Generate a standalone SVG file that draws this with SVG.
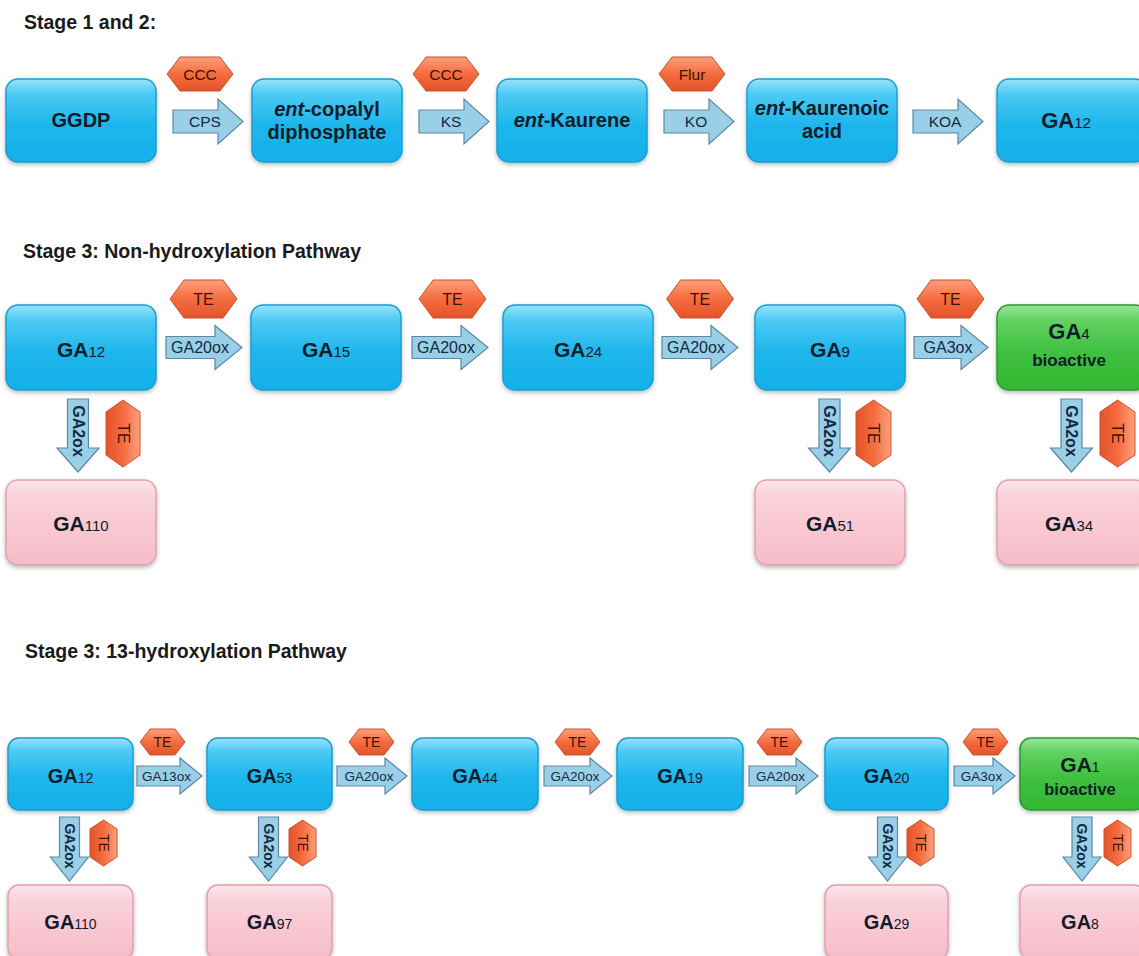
<svg xmlns="http://www.w3.org/2000/svg" width="1139" height="956" viewBox="0 0 1139 956">
<defs>
  <linearGradient id="gBlue" x1="0" y1="0" x2="0" y2="1">
    <stop offset="0" stop-color="#9ae3fb"/>
    <stop offset="0.18" stop-color="#4ccaf4"/>
    <stop offset="0.55" stop-color="#1fb6ec"/>
    <stop offset="1" stop-color="#12b0ea"/>
  </linearGradient>
  <linearGradient id="gGreen" x1="0" y1="0" x2="0" y2="1">
    <stop offset="0" stop-color="#9be69b"/>
    <stop offset="0.18" stop-color="#62d262"/>
    <stop offset="0.55" stop-color="#40c040"/>
    <stop offset="1" stop-color="#33b733"/>
  </linearGradient>
  <linearGradient id="gPink" x1="0" y1="0" x2="0" y2="1">
    <stop offset="0" stop-color="#fde6eb"/>
    <stop offset="0.2" stop-color="#fad2da"/>
    <stop offset="1" stop-color="#f6bcc8"/>
  </linearGradient>
  <linearGradient id="gHex" x1="0" y1="0" x2="0" y2="1">
    <stop offset="0" stop-color="#ff9f7c"/>
    <stop offset="0.5" stop-color="#f46c3e"/>
    <stop offset="1" stop-color="#e4532a"/>
  </linearGradient>
  <linearGradient id="gHexV" x1="0" y1="0" x2="1" y2="0">
    <stop offset="0" stop-color="#e4532a"/>
    <stop offset="0.5" stop-color="#f46c3e"/>
    <stop offset="1" stop-color="#ff9f7c"/>
  </linearGradient>
  <filter id="sh" x="-10%" y="-10%" width="120%" height="130%">
    <feDropShadow dx="0" dy="2" stdDeviation="2" flood-color="#000" flood-opacity="0.28"/>
  </filter>
</defs>
<style>
  .title{font-family:"Liberation Sans",Arial,sans-serif;font-weight:bold;font-size:19.5px;fill:#1a1a1a}
  .blue{fill:url(#gBlue);stroke:#1b9dcf;stroke-width:1.5;filter:url(#sh)}
  .green{fill:url(#gGreen);stroke:#2c9a2c;stroke-width:1.5;filter:url(#sh)}
  .pink{fill:url(#gPink);stroke:#e3a0af;stroke-width:1.5;filter:url(#sh)}
  .arr{fill:#9acfe8;stroke:#5d87a3;stroke-width:1.2}
  .hex{fill:url(#gHex);stroke:#c9522c;stroke-width:1}
  .hexv{fill:url(#gHexV);stroke:#c9522c;stroke-width:1}
  .lbl{font-family:"Liberation Sans",Arial,sans-serif;font-weight:bold;fill:#101c2a;text-anchor:middle}
  .sub{font-weight:normal}
  .alb{font-family:"Liberation Sans",Arial,sans-serif;fill:#142a40;text-anchor:middle}
  .vlb{font-family:"Liberation Sans",Arial,sans-serif;font-weight:bold;fill:#142a40;text-anchor:middle;dominant-baseline:central}
  .hlb{font-family:"Liberation Sans",Arial,sans-serif;fill:#3a1208;text-anchor:middle}
  .hvl{font-family:"Liberation Sans",Arial,sans-serif;fill:#3a1208;text-anchor:middle;dominant-baseline:central}
</style>
<rect width="1139" height="956" fill="#ffffff"/>

<text class="title" x="24" y="29">Stage 1 and 2:</text>
<text class="title" x="23" y="258">Stage 3: Non-hydroxylation Pathway</text>
<text class="title" x="25" y="658">Stage 3: 13-hydroxylation Pathway</text>

<!-- Connectors -->
<g id="connectors">
  <!-- stage 1-2 -->
  <path class="arr" d="M173,110 L218,110 L218,99 L243,121.5 L218,144 L218,133 L173,133 Z"/>
  <path class="arr" d="M419,110 L464,110 L464,99 L489,121.5 L464,144 L464,133 L419,133 Z"/>
  <path class="arr" d="M664,110 L709,110 L709,99 L734,121.5 L709,144 L709,133 L664,133 Z"/>
  <path class="arr" d="M913,110 L958,110 L958,99 L983,121.5 L958,144 L958,133 L913,133 Z"/>
  <text class="alb" x="205" y="127" font-size="15.5">CPS</text>
  <text class="alb" x="451" y="127" font-size="15.5">KS</text>
  <text class="alb" x="696" y="127" font-size="15.5">KO</text>
  <text class="alb" x="945" y="127" font-size="15.5">KOA</text>
  <polygon class="hex" points="167,74 180,57 220,57 233,74 220,91 180,91"/>
  <polygon class="hex" points="413,74 426,57 466,57 479,74 466,91 426,91"/>
  <polygon class="hex" points="659,74 672,57 712,57 725,74 712,91 672,91"/>
  <text class="hlb" x="200" y="80" font-size="15.5">CCC</text>
  <text class="hlb" x="446" y="80" font-size="15.5">CCC</text>
  <text class="hlb" x="692" y="80" font-size="15.5">Flur</text>

  <!-- stage 3 non-hydroxylation -->
  <path class="arr" d="M166,336.5 L215,336.5 L215,325.5 L242,347.5 L215,369.5 L215,358.5 L166,358.5 Z"/>
  <path class="arr" d="M412,336.5 L461,336.5 L461,325.5 L488,347.5 L461,369.5 L461,358.5 L412,358.5 Z"/>
  <path class="arr" d="M662,336.5 L711,336.5 L711,325.5 L738,347.5 L711,369.5 L711,358.5 L662,358.5 Z"/>
  <path class="arr" d="M914,336.5 L961,336.5 L961,325.5 L988,347.5 L961,369.5 L961,358.5 L914,358.5 Z"/>
  <text class="alb" x="200" y="353" font-size="16">GA20ox</text>
  <text class="alb" x="446" y="353" font-size="16">GA20ox</text>
  <text class="alb" x="696" y="353" font-size="16">GA20ox</text>
  <text class="alb" x="948" y="353" font-size="16">GA3ox</text>
  <polygon class="hex" points="170,299 184,280 223,280 237,299 223,318 184,318"/>
  <polygon class="hex" points="419,299 433,280 472,280 486,299 472,318 433,318"/>
  <polygon class="hex" points="666.5,299 680.5,280 719.5,280 733.5,299 719.5,318 680.5,318"/>
  <polygon class="hex" points="917,299 931,280 970,280 984,299 970,318 931,318"/>
  <text class="hlb" x="203.5" y="305" font-size="16">TE</text>
  <text class="hlb" x="452.5" y="305" font-size="16">TE</text>
  <text class="hlb" x="700" y="305" font-size="16">TE</text>
  <text class="hlb" x="950.5" y="305" font-size="16">TE</text>

  <path class="arr" d="M67.5,399 L88.5,399 L88.5,448 L99,448 L78,472 L57,448 L67.5,448 Z"/>
  <path class="arr" d="M819,399 L840,399 L840,448 L850.5,448 L829.5,472 L808.5,448 L819,448 Z"/>
  <path class="arr" d="M1061,399 L1082,399 L1082,448 L1092.5,448 L1071.5,472 L1050.5,448 L1061,448 Z"/>
  <text class="vlb" transform="translate(78,431) rotate(90)" font-size="16">GA2ox</text>
  <text class="vlb" transform="translate(829.5,431) rotate(90)" font-size="16">GA2ox</text>
  <text class="vlb" transform="translate(1071.5,431) rotate(90)" font-size="16">GA2ox</text>
  <polygon class="hexv" points="123,400 140,412 140,455 123,467 106,455 106,412"/>
  <polygon class="hexv" points="873.5,400 891,412 891,455 873.5,467 856,455 856,412"/>
  <polygon class="hexv" points="1117.5,400 1135,412 1135,455 1117.5,467 1100,455 1100,412"/>
  <text class="hvl" transform="translate(123,433.5) rotate(90)" font-size="16">TE</text>
  <text class="hvl" transform="translate(873.5,433.5) rotate(90)" font-size="16">TE</text>
  <text class="hvl" transform="translate(1117.5,433.5) rotate(90)" font-size="16">TE</text>

  <!-- stage 3 13-hydroxylation -->
  <path class="arr" d="M137,766 L180,766 L180,758 L202,776 L180,794 L180,786 L137,786 Z"/>
  <path class="arr" d="M337,766 L385,766 L385,758 L407,776 L385,794 L385,786 L337,786 Z"/>
  <path class="arr" d="M544,766 L590,766 L590,758 L612,776 L590,794 L590,786 L544,786 Z"/>
  <path class="arr" d="M749,766 L796,766 L796,758 L818,776 L796,794 L796,786 L749,786 Z"/>
  <path class="arr" d="M954,766 L993,766 L993,758 L1015,776 L993,794 L993,786 L954,786 Z"/>
  <text class="alb" x="166.5" y="781" font-size="13.5">GA13ox</text>
  <text class="alb" x="369" y="781" font-size="13.5">GA20ox</text>
  <text class="alb" x="575" y="781" font-size="13.5">GA20ox</text>
  <text class="alb" x="780.5" y="781" font-size="13.5">GA20ox</text>
  <text class="alb" x="981.5" y="781" font-size="13.5">GA3ox</text>
  <polygon class="hex" points="140,742 150,729 175,729 185,742 175,755 150,755"/>
  <polygon class="hex" points="349,742 359,729 384,729 394,742 384,755 359,755"/>
  <polygon class="hex" points="555,742 565,729 590,729 600,742 590,755 565,755"/>
  <polygon class="hex" points="757,742 767,729 792,729 802,742 792,755 767,755"/>
  <polygon class="hex" points="963,742 973,729 998,729 1008,742 998,755 973,755"/>
  <text class="hlb" x="162.5" y="747" font-size="14">TE</text>
  <text class="hlb" x="371.5" y="747" font-size="14">TE</text>
  <text class="hlb" x="577.5" y="747" font-size="14">TE</text>
  <text class="hlb" x="779.5" y="747" font-size="14">TE</text>
  <text class="hlb" x="985.5" y="747" font-size="14">TE</text>

  <path class="arr" d="M59.5,817 L79.5,817 L79.5,857 L88.5,857 L69.5,881 L50.5,857 L59.5,857 Z"/>
  <path class="arr" d="M258.5,817 L278.5,817 L278.5,857 L287.5,857 L268.5,881 L249.5,857 L258.5,857 Z"/>
  <path class="arr" d="M877.5,817 L897.5,817 L897.5,857 L906.5,857 L887.5,881 L868.5,857 L877.5,857 Z"/>
  <path class="arr" d="M1072,817 L1092,817 L1092,857 L1101,857 L1082,881 L1063,857 L1072,857 Z"/>
  <text class="vlb" transform="translate(69.5,846) rotate(90)" font-size="14">GA2ox</text>
  <text class="vlb" transform="translate(268.5,846) rotate(90)" font-size="14">GA2ox</text>
  <text class="vlb" transform="translate(887.5,846) rotate(90)" font-size="14">GA2ox</text>
  <text class="vlb" transform="translate(1082,846) rotate(90)" font-size="14">GA2ox</text>
  <polygon class="hexv" points="103.5,820 117,829 117,857 103.5,866 90,857 90,829"/>
  <polygon class="hexv" points="302.5,820 316,829 316,857 302.5,866 289,857 289,829"/>
  <polygon class="hexv" points="920.5,820 934,829 934,857 920.5,866 907,857 907,829"/>
  <polygon class="hexv" points="1117.5,820 1131,829 1131,857 1117.5,866 1104,857 1104,829"/>
  <text class="hvl" transform="translate(103.5,843) rotate(90)" font-size="14">TE</text>
  <text class="hvl" transform="translate(302.5,843) rotate(90)" font-size="14">TE</text>
  <text class="hvl" transform="translate(920.5,843) rotate(90)" font-size="14">TE</text>
  <text class="hvl" transform="translate(1117.5,843) rotate(90)" font-size="14">TE</text>
</g>

<!-- Stage 1 and 2 nodes -->
<g id="n-ggdp"><rect class="blue" x="6" y="79" width="150" height="83" rx="12"/><text class="lbl" x="81" y="127" font-size="20">GGDP</text></g>
<g id="n-copalyl"><rect class="blue" x="252" y="79" width="150" height="83" rx="12"/><text class="lbl" x="327" y="116" font-size="20"><tspan font-style="italic">ent</tspan>-copalyl</text><text class="lbl" x="327" y="139" font-size="20">diphosphate</text></g>
<g id="n-kaurene"><rect class="blue" x="497" y="79" width="150" height="83" rx="12"/><text class="lbl" x="572" y="127" font-size="20"><tspan font-style="italic">ent</tspan>-Kaurene</text></g>
<g id="n-kaurenoic"><rect class="blue" x="747" y="79" width="150" height="83" rx="12"/><text class="lbl" x="822" y="115" font-size="20"><tspan font-style="italic">ent</tspan>-Kaurenoic</text><text class="lbl" x="822" y="138" font-size="20">acid</text></g>
<g id="n-ga12-s1"><rect class="blue" x="997" y="79" width="150" height="83" rx="12"/><text class="lbl" x="1066" y="128" font-size="22">GA<tspan class="sub" font-size="15">12</tspan></text></g>

<!-- Stage 3 non-hydroxylation nodes -->
<g id="n-ga12-a"><rect class="blue" x="6" y="305" width="150" height="85" rx="12"/><text class="lbl" x="81" y="357" font-size="21">GA<tspan class="sub" font-size="15">12</tspan></text></g>
<g id="n-ga15"><rect class="blue" x="251" y="305" width="150" height="85" rx="12"/><text class="lbl" x="326" y="357" font-size="21">GA<tspan class="sub" font-size="15">15</tspan></text></g>
<g id="n-ga24"><rect class="blue" x="503" y="305" width="150" height="85" rx="12"/><text class="lbl" x="578" y="357" font-size="21">GA<tspan class="sub" font-size="15">24</tspan></text></g>
<g id="n-ga9"><rect class="blue" x="755" y="305" width="150" height="85" rx="12"/><text class="lbl" x="830" y="357" font-size="21">GA<tspan class="sub" font-size="15">9</tspan></text></g>
<g id="n-ga4"><rect class="green" x="997" y="305" width="150" height="85" rx="12"/><text class="lbl" x="1069" y="339" font-size="22">GA<tspan class="sub" font-size="15">4</tspan></text><text class="lbl" x="1069" y="366" font-size="17">bioactive</text></g>
<g id="n-ga110-a"><rect class="pink" x="6" y="480" width="150" height="85" rx="12"/><text class="lbl" x="81" y="531" font-size="21">GA<tspan class="sub" font-size="15">110</tspan></text></g>
<g id="n-ga51"><rect class="pink" x="755" y="480" width="150" height="85" rx="12"/><text class="lbl" x="830" y="531" font-size="21">GA<tspan class="sub" font-size="15">51</tspan></text></g>
<g id="n-ga34"><rect class="pink" x="997" y="480" width="150" height="85" rx="12"/><text class="lbl" x="1069" y="531" font-size="21">GA<tspan class="sub" font-size="15">34</tspan></text></g>

<!-- Stage 3 13-hydroxylation nodes -->
<g id="n-ga12-b"><rect class="blue" x="8" y="738" width="125" height="72" rx="11"/><text class="lbl" x="70.5" y="783" font-size="20">GA<tspan class="sub" font-size="14">12</tspan></text></g>
<g id="n-ga53"><rect class="blue" x="207" y="738" width="125" height="72" rx="11"/><text class="lbl" x="269.5" y="783" font-size="20">GA<tspan class="sub" font-size="14">53</tspan></text></g>
<g id="n-ga44"><rect class="blue" x="412" y="738" width="126" height="72" rx="11"/><text class="lbl" x="475" y="783" font-size="20">GA<tspan class="sub" font-size="14">44</tspan></text></g>
<g id="n-ga19"><rect class="blue" x="617" y="738" width="126" height="72" rx="11"/><text class="lbl" x="680" y="783" font-size="20">GA<tspan class="sub" font-size="14">19</tspan></text></g>
<g id="n-ga20"><rect class="blue" x="825" y="738" width="123" height="72" rx="11"/><text class="lbl" x="886.5" y="783" font-size="20">GA<tspan class="sub" font-size="14">20</tspan></text></g>
<g id="n-ga1"><rect class="green" x="1020" y="738" width="125" height="72" rx="11"/><text class="lbl" x="1080" y="772" font-size="21">GA<tspan class="sub" font-size="14">1</tspan></text><text class="lbl" x="1080" y="795" font-size="16.5">bioactive</text></g>
<g id="n-ga110-b"><rect class="pink" x="8" y="885" width="125" height="74" rx="11"/><text class="lbl" x="70.5" y="929" font-size="20">GA<tspan class="sub" font-size="14">110</tspan></text></g>
<g id="n-ga97"><rect class="pink" x="207" y="885" width="125" height="74" rx="11"/><text class="lbl" x="269.5" y="929" font-size="20">GA<tspan class="sub" font-size="14">97</tspan></text></g>
<g id="n-ga29"><rect class="pink" x="825" y="885" width="123" height="74" rx="11"/><text class="lbl" x="886.5" y="929" font-size="20">GA<tspan class="sub" font-size="14">29</tspan></text></g>
<g id="n-ga8"><rect class="pink" x="1020" y="885" width="125" height="74" rx="11"/><text class="lbl" x="1080" y="929" font-size="20">GA<tspan class="sub" font-size="14">8</tspan></text></g>
</svg>
